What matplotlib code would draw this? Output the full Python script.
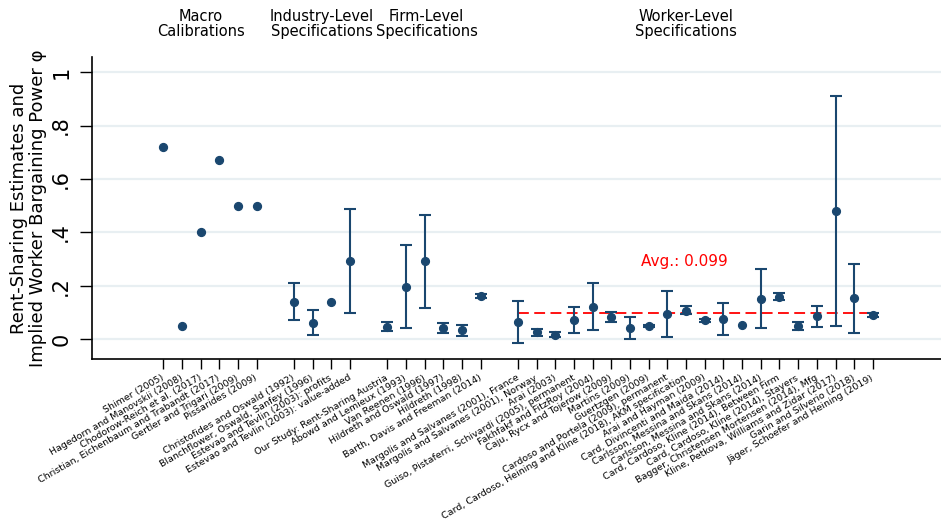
import numpy as np
import matplotlib.pyplot as plt
import matplotlib.transforms as mtransforms

# study labels, grouped by level of aggregation
macro_labels = ['Shimer (2005)', 'Hagedorn and Manovskii (2008)', 'Chodorow-Reich et al. (2017)',
                'Christian, Eichenbaum and Trabandt (2017)', 'Gertler and Trigari (2009)', 'Pissarides (2009)']
industry_labels = ['Christofides and Oswald (1992)', 'Blanchflower, Oswald, Sanfey (1996)',
                   'Estevao and Tevlin (2003): profits', 'Estevao and Tevlin (2003): value-added']
firm_labels = ['Our Study: Rent-Sharing Austria', 'Abowd and Lemieux (1993)', 'Van Reenen (1996)',
               'Hildreth and Oswald (1997)', 'Hildreth (1998)', 'Barth, Davis and Freeman (2014)']
worker_labels = ['Margolis and Salvanes (2001), France', 'Margolis and Salvanes (2001), Norway',
                 'Arai (2003)', 'Guiso, Pistaferri, Schivardi (2005), permanent',
                 'Fakhfakf and FitzRoy (2004)', 'Caju, Rycx and Tojerow (2009)', 'Martins (2009)',
                 'Guertzgen (2009)', 'Cardoso and Portela (2009), permanent',
                 'Card, Cardoso, Heining and Kline (2018), AKM specification', 'Arai and Hayman (2009)',
                 'Card, Divincenti and Maida (2014)', 'Carlsson, Messina and Skans (2014)',
                 'Carlsson, Messina and Skans (2014)', 'Card, Cardoso, Kline (2014), Between Firm',
                 'Card, Cardoso, Kline (2014), Stayers', 'Bagger, Christensen Mortensen (2014), Mfg',
                 'Kline, Petkova, Williams and Zidar (2017)', 'Garin and Silverio (2018)',
                 'Jäger, Schoefer and Heining (2019)']

# point estimates and confidence bounds (nan = no interval reported)
macro_est = [0.72, 0.05, 0.40, 0.67, 0.50, 0.50]
industry_est = [0.14, 0.061, 0.14, 0.291]
industry_lo = [0.072, 0.015, np.nan, 0.096]
industry_hi = [0.209, 0.109, np.nan, 0.486]
firm_est = [0.046, 0.196, 0.291, 0.041, 0.032, 0.161]
firm_lo = [0.029, 0.041, 0.117, 0.021, 0.011, 0.155]
firm_hi = [0.065, 0.351, 0.465, 0.061, 0.051, 0.167]
worker_est = [0.062, 0.025, 0.016, 0.071, 0.121, 0.084, 0.040, 0.049, 0.093, 0.106,
              0.070, 0.075, 0.051, 0.150, 0.157, 0.049, 0.087, 0.481, 0.153, 0.091]
worker_lo = [-0.016, 0.012, 0.006, 0.021, 0.034, 0.062, -0.001, 0.045, 0.006, 0.093,
             0.065, 0.014, np.nan, 0.040, 0.146, 0.034, 0.046, 0.050, 0.021, 0.083]
worker_hi = [0.144, 0.039, 0.026, 0.120, 0.211, 0.100, 0.081, 0.053, 0.181, 0.124,
             0.075, 0.136, np.nan, 0.262, 0.171, 0.065, 0.125, 0.912, 0.282, 0.099]
worker_avg = 0.099

group_titles = ['Macro\nCalibrations', 'Industry-Level\nSpecifications',
                'Firm-Level\nSpecifications', 'Worker-Level\nSpecifications']

navy = '#1a476f'

# x positions: one slot per study, empty slot between groups
x_macro = np.arange(0, 6)
x_ind = np.arange(7, 11)
x_firm = np.arange(12, 18)
x_work = np.arange(19, 39)

fig = plt.figure(figsize=(9.41, 5.31), dpi=100)
ax = fig.add_axes([0.0978, 0.3239, 0.9022, 0.5688])

ax.scatter(x_macro, macro_est, color=navy, s=32, zorder=3)
for xs, est, lo, hi in [(x_ind, industry_est, industry_lo, industry_hi),
                        (x_firm, firm_est, firm_lo, firm_hi),
                        (x_work, worker_est, worker_lo, worker_hi)]:
    est = np.array(est)
    yerr = np.vstack([est - np.array(lo), np.array(hi) - est])
    ax.errorbar(xs, est, yerr=yerr, fmt='o', color=navy, ms=5.6, elinewidth=1.5,
                capsize=4.3, capthick=1.5, zorder=3)

ax.plot([19, 38.25], [worker_avg, worker_avg], color='red', linestyle=(0, (6, 3)), lw=1.3, zorder=2)
ax.text(27.9, 0.29, 'Avg.: {:.3f}'.format(worker_avg), color='red', fontsize=11, ha='center', va='center')

ax.set_xlim(-3.82, 41.65)
ax.set_ylim(-0.075, 1.057)
ax.set_yticks([0, 0.2, 0.4, 0.6, 0.8, 1.0])
ax.set_yticklabels(['0', '.2', '.4', '.6', '.8', '1'], rotation=90, va='center', fontsize=15)
ax.grid(axis='y', color='#e8eff2', lw=1.6)
ax.set_axisbelow(True)

xticks = np.concatenate([x_macro, x_ind, x_firm, x_work])
ax.set_xticks(xticks)
ax.set_xticklabels(macro_labels + industry_labels + firm_labels + worker_labels, rotation=30,
                   ha='right', va='center', rotation_mode='anchor', fontsize=6.8)
ax.tick_params(axis='x', length=7, width=1, pad=6)
ax.tick_params(axis='y', length=9, width=1, pad=6)

for side in ['top', 'right']:
    ax.spines[side].set_visible(False)
for side in ['left', 'bottom']:
    ax.spines[side].set_linewidth(1.2)

ax.set_ylabel('Rent-Sharing Estimates and\nImplied Worker Bargaining Power φ', fontsize=13, linespacing=1.05)
ax.yaxis.set_label_coords(-0.053, 0.5)

# group headers above the plot area
trans = mtransforms.blended_transform_factory(ax.transData, fig.transFigure)
for xc, title in zip([2.0, 8.5, 14.1, 28.0], group_titles):
    ax.text(xc, 0.955, title, transform=trans, ha='center', va='center', fontsize=10.5, linespacing=1.05)

plt.savefig('out.png', dpi=100)
